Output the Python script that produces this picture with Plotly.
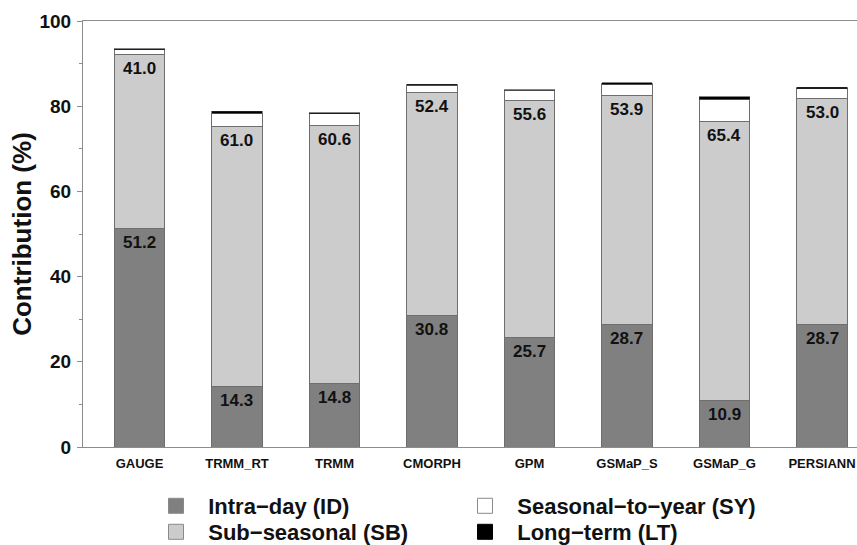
import plotly.graph_objects as go

# Products and variance contributions (%) of each timescale component
products = ["GAUGE", "TRMM_RT", "TRMM", "CMORPH", "GPM", "GSMaP_S", "GSMaP_G", "PERSIANN"]
intra_day = [51.2, 14.3, 14.8, 30.8, 25.7, 28.7, 10.9, 28.7]
sub_seasonal = [41.0, 61.0, 60.6, 52.4, 55.6, 53.9, 65.4, 53.0]
seasonal_year = [1.1, 3.1, 2.8, 1.7, 2.4, 2.6, 5.3, 2.4]
long_term = [0.2, 0.4, 0.3, 0.2, 0.2, 0.3, 0.6, 0.3]

series = [
    ("Intra\u2212day (ID)", intra_day, "#808080", "legend"),
    ("Sub\u2212seasonal (SB)", sub_seasonal, "#cccccc", "legend2"),
    ("Seasonal\u2212to\u2212year (SY)", seasonal_year, "#ffffff", "legend"),
    ("Long\u2212term (LT)", long_term, "#000000", "legend2"),
]

FONT = "Liberation Sans, Arial, sans-serif"
EDGE = "#6e6e6e"
W, H = 857, 545
L_MARGIN = 83
xs = list(range(len(products)))

fig = go.Figure()
for name, vals, color, leg in series:
    is_lt = color == "#000000"
    fig.add_trace(go.Bar(
        x=xs, y=vals, width=0.52, name=name,
        marker=dict(color=color, line=dict(color="#333333" if is_lt else EDGE, width=0.6 if is_lt else 1)),
        showlegend=False,
    ))
    # legend entries drawn as square markers
    fig.add_trace(go.Scatter(
        x=[None], y=[None], mode="markers", name=f"\u00a0\u00a0<b>{name}</b>",
        marker=dict(symbol="square", size=15, color=color,
                    line=dict(color="#000000" if is_lt else "#8a8a8a", width=1)),
        legend=leg,
    ))

# value labels just under the top of the ID and SB segments
for i in xs:
    top_id = intra_day[i]
    top_sb = intra_day[i] + sub_seasonal[i]
    for val, top in ((intra_day[i], top_id), (sub_seasonal[i], top_sb)):
        fig.add_annotation(
            x=i, y=top, text=f"<b>{val:.1f}</b>", showarrow=False,
            yanchor="middle", yshift=-14,
            font=dict(family=FONT, size=17, color="#111111"),
        )

legend_style = dict(
    orientation="h", traceorder="normal",
    xref="paper", x=(156 - L_MARGIN) / (W - L_MARGIN), xanchor="left",
    yref="container", yanchor="middle",
    entrywidth=264, itemwidth=30,
    font=dict(family=FONT, size=22, color="#111111"),
    bgcolor="rgba(0,0,0,0)",
)

fig.update_layout(
    barmode="stack",
    width=W, height=H,
    margin=dict(l=L_MARGIN, r=0, t=21, b=98, autoexpand=False),
    plot_bgcolor="#ffffff", paper_bgcolor="#ffffff",
    font=dict(family=FONT, color="#111111"),
    showlegend=True,
    legend=dict(legend_style, y=(H - 506) / H),
    legend2=dict(legend_style, y=(H - 532) / H),
)

fig.update_xaxes(
    range=[-0.579, 7.359], tickmode="array", tickvals=xs,
    ticktext=[f"<b>{p}</b>" for p in products],
    tickfont=dict(family=FONT, size=13, color="#111111"),
    ticklabelstandoff=4,
    showline=True, linecolor="#8c8c8c", linewidth=1, mirror=True,
    ticks="", showgrid=False, zeroline=False, automargin=False,
)
fig.update_yaxes(
    range=[0, 100], tickmode="array", tickvals=[0, 20, 40, 60, 80, 100],
    ticktext=[f"<b>{v}</b>" for v in [0, 20, 40, 60, 80, 100]],
    tickfont=dict(family=FONT, size=19, color="#111111"),
    ticklabelstandoff=2,
    ticks="outside", ticklen=5, tickcolor="#8c8c8c",
    minor=dict(tickvals=[10, 30, 50, 70, 90], ticks="outside", ticklen=3, tickcolor="#8c8c8c"),
    showline=True, linecolor="#8c8c8c", linewidth=1,
    showgrid=False, zeroline=False, automargin=False,
    title=dict(text="<b>Contribution (%)</b>", font=dict(family=FONT, size=26, color="#111111"), standoff=0),
)

fig.write_html("out.html")
